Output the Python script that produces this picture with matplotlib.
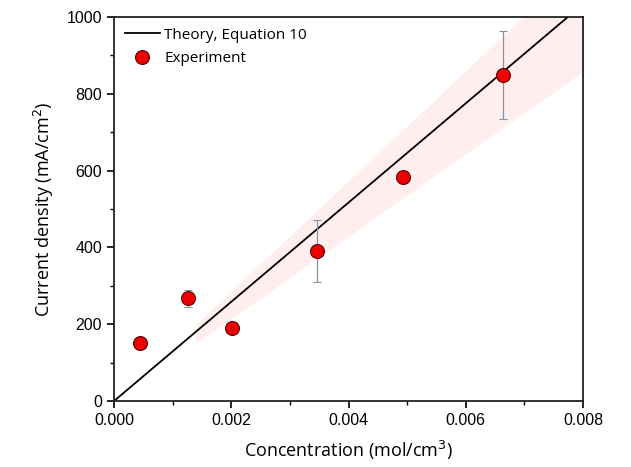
import numpy as np
import matplotlib.pyplot as plt
from matplotlib.ticker import MultipleLocator

conc = [0.00044, 0.00126, 0.00201, 0.00346, 0.00493, 0.00664]
current = [151, 268, 190, 391, 583, 849]
current_err = [6, 22, 6, 80, 8, 115]

# theory line (Equation 10)
theory_c = [0.0, 0.0080]
slope = 129200.0
band_c = [0.0014, 0.0080]
band_lo, band_hi = 0.17, 0.11

fig = plt.figure(figsize=(6.31, 4.67), dpi=100)
ax = fig.add_axes([0.1807, 0.1413, 0.7433, 0.8223])

bc = np.linspace(band_c[0], band_c[1], 50)
ax.fill_between(bc, slope * bc * (1 - band_lo), slope * bc * (1 + band_hi),
                color='#ff9999', alpha=0.16, linewidth=0, zorder=1)

tc = np.array(theory_c)
ax.plot(tc, slope * tc, color='black', lw=1.3, label='Theory, Equation 10', zorder=2)
ax.errorbar(conc, current, yerr=current_err, fmt='none', ecolor='#8a93a3',
            elinewidth=0.9, capsize=3, capthick=0.8, zorder=3)
ax.plot(conc, current, 'o', ms=10, mfc='#ee0000', mec='#5a0000', mew=0.8,
        ls='none', label='Experiment', zorder=4)

ax.set_xlim(0, 0.008)
ax.set_ylim(0, 1000)
ax.xaxis.set_major_locator(MultipleLocator(0.002))
ax.xaxis.set_minor_locator(MultipleLocator(0.001))
ax.yaxis.set_major_locator(MultipleLocator(200))
ax.yaxis.set_minor_locator(MultipleLocator(100))
ax.xaxis.set_major_formatter(plt.FuncFormatter(lambda v, p: f'{v:.3f}'))
ax.tick_params(which='major', length=5, width=1.2, labelsize=11.5, direction='out',
               labelfontfamily='Liberation Sans')
ax.tick_params(which='minor', length=3, width=1.0, direction='out')
for sp in ax.spines.values():
    sp.set_linewidth(1.3)
    sp.set_color('#222222')

ax.set_xlabel('Concentration (mol/cm$^3$)', family='Open Sans', fontsize=13, labelpad=8)
ax.set_ylabel('Current density (mA/cm$^2$)', family='Open Sans', fontsize=13, labelpad=8)

ax.legend(loc='upper left', frameon=False, prop={'family': 'Open Sans', 'size': 11},
          handlelength=2.3, borderaxespad=0.3, labelspacing=0.55, handletextpad=0.3)

fig.savefig('out.png', dpi=100)
